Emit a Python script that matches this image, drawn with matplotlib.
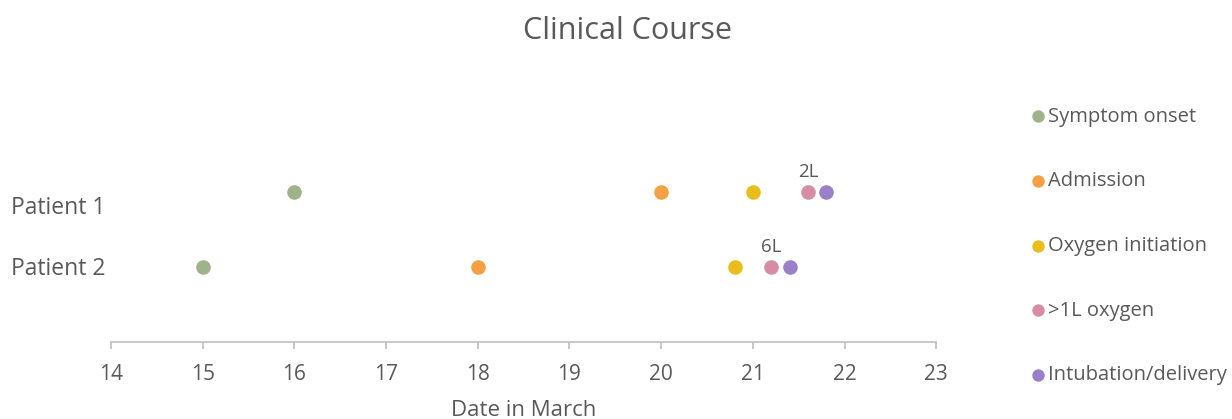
import matplotlib.pyplot as plt

plt.rcParams['font.family'] = ['Open Sans', 'DejaVu Sans']

# Data
events = ['Symptom onset', 'Admission', 'Oxygen initiation', '>1L oxygen', 'Intubation/delivery']
patients = ['Patient 1', 'Patient 2']
patient_rows = [2, 1]
p1_days = [16, 20, 21, 21.6, 21.8]
p2_days = [15, 18, 20.8, 21.2, 21.4]
oxygen_labels = ['2L', '6L']

colors = ['#9fb28a', '#f4a043', '#e8bd1c', '#d68ca2', '#9a7fc9']
grey = '#595959'

fig = plt.figure(figsize=(12.32, 4.19), dpi=100)
ax = fig.add_axes([0.090, 0.184, 0.670, 0.537])

for i, ev in enumerate(events):
    ax.scatter([p1_days[i], p2_days[i]], patient_rows, s=110, color=colors[i],
               label=ev, zorder=3, linewidths=0)

# oxygen flow labels above the >1L points
for days, row, txt in zip([p1_days, p2_days], patient_rows, oxygen_labels):
    ax.annotate(txt, (days[3], row), xytext=(0, 8), textcoords='offset points',
                ha='center', va='bottom', fontsize=13.5, color=grey)

ax.set_xlim(14, 23)
ax.set_ylim(0, 3)
ax.set_xticks(range(14, 24))
ax.set_yticks([])
for s in ['top', 'right', 'left']:
    ax.spines[s].set_visible(False)
ax.spines['bottom'].set_color('#bfbfbf')
ax.spines['bottom'].set_linewidth(1.2)
ax.tick_params(axis='x', colors='#bfbfbf', length=5, width=1.2, labelcolor=grey,
               labelsize=15, pad=11)
ax.set_xlabel('Date in March', fontsize=16, color=grey, labelpad=11)

# patient names sit on the left like Excel's category labels
ax.text(-0.007, 1.78, patients[0], transform=ax.get_yaxis_transform(), ha='right',
        va='center', fontsize=16.5, color=grey)
ax.text(-0.007, 0.97, patients[1], transform=ax.get_yaxis_transform(), ha='right',
        va='center', fontsize=16.5, color=grey)

fig.suptitle('Clinical Course', x=0.509, y=0.962, fontsize=22, color=grey)

leg = fig.legend(loc='upper left', bbox_to_anchor=(0.8275, 0.765), frameon=False,
                 fontsize=14.5, labelspacing=2.22, handletextpad=0.0,
                 borderaxespad=0, handlelength=1.0, labelcolor=grey)
for h in leg.legend_handles:
    h.set_sizes([80])

fig.savefig('out.png', dpi=100)
